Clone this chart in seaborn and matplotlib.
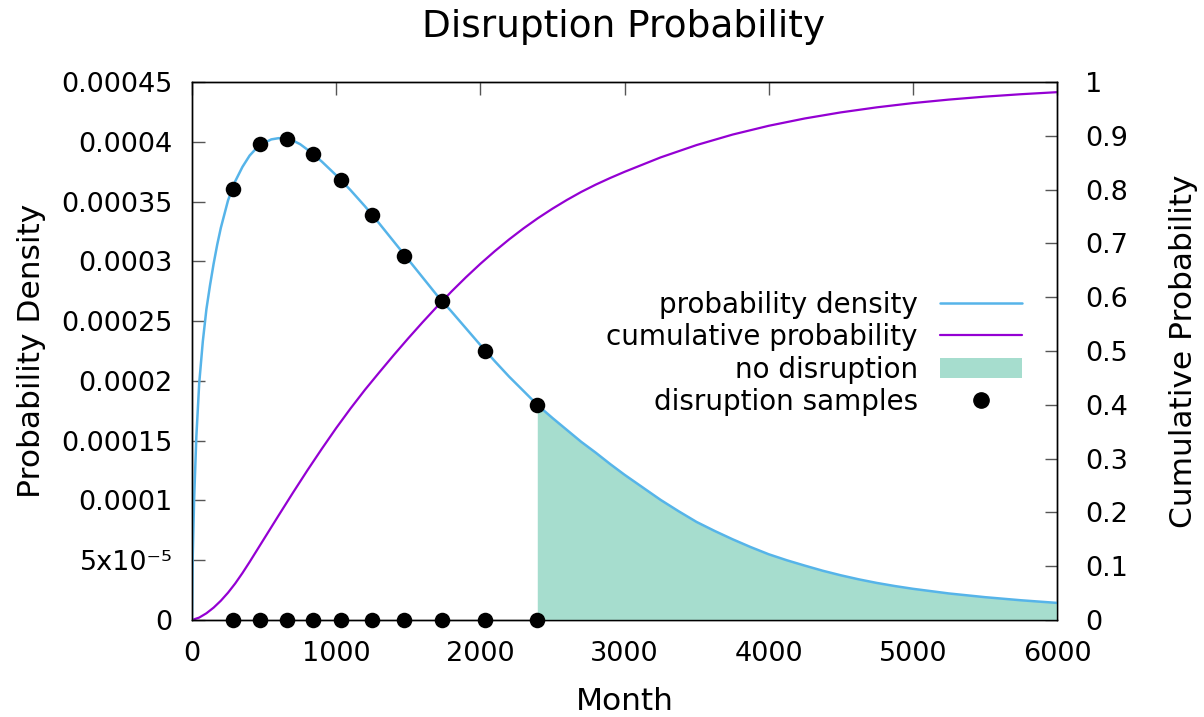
import matplotlib
matplotlib.use('Agg')
import matplotlib.pyplot as plt
from matplotlib.lines import Line2D
from matplotlib.patches import Patch
import seaborn as sns

# probability density curve
pdf_month = [0, 5, 15, 30, 50, 75, 100, 125, 150, 175, 200, 250, 300, 350, 400, 450, 500,
             550, 600, 650, 700, 750, 800, 900, 1000, 1100, 1200, 1300, 1400, 1500, 1600,
             1700, 1800, 1900, 2000, 2100, 2200, 2300, 2395, 2500, 2600, 2700, 2800, 2900,
             3000, 3125, 3250, 3375, 3500, 3625, 3750, 3875, 4000, 4125, 4250, 4375, 4500,
             4625, 4750, 4875, 5000, 5250, 5500, 5750, 6000]
pdf_value = [0, 0.53e-4, 1.02e-4, 1.53e-4, 1.98e-4, 2.33e-4, 2.60e-4, 2.80e-4, 2.98e-4,
             3.14e-4, 3.28e-4, 3.51e-4, 3.67e-4, 3.79e-4, 3.885e-4, 3.95e-4, 3.99e-4, 4.02e-4,
             4.03e-4, 4.03e-4, 4.01e-4, 3.98e-4, 3.935e-4, 3.835e-4, 3.72e-4, 3.595e-4,
             3.46e-4, 3.315e-4, 3.165e-4, 3.015e-4, 2.865e-4, 2.715e-4, 2.58e-4, 2.44e-4,
             2.30e-4, 2.165e-4, 2.035e-4, 1.915e-4, 1.80e-4, 1.69e-4, 1.59e-4, 1.49e-4,
             1.40e-4, 1.305e-4, 1.215e-4, 1.11e-4, 1.005e-4, 0.91e-4, 0.82e-4, 0.745e-4,
             0.675e-4, 0.61e-4, 0.55e-4, 0.50e-4, 0.455e-4, 0.412e-4, 0.374e-4, 0.340e-4,
             0.310e-4, 0.284e-4, 0.261e-4, 0.222e-4, 0.191e-4, 0.165e-4, 0.143e-4]

# cumulative probability curve
cdf_month = [0, 50, 100, 150, 200, 250, 300, 350, 400, 450, 500, 600, 700, 800, 900, 1000,
             1100, 1200, 1300, 1400, 1500, 1600, 1700, 1800, 1900, 2000, 2100, 2200, 2300,
             2400, 2500, 2600, 2700, 2800, 2900, 3000, 3250, 3500, 3750, 4000, 4250, 4500,
             4750, 5000, 5250, 5500, 5750, 6000]
cdf_value = [0, 0.0045, 0.0125, 0.023, 0.0358, 0.0508, 0.068, 0.0873, 0.108, 0.1295, 0.151,
             0.194, 0.2365, 0.278, 0.318, 0.3567, 0.3933, 0.428, 0.4606, 0.4926, 0.5236,
             0.5536, 0.5826, 0.6106, 0.637, 0.662, 0.6855, 0.7075, 0.728, 0.747, 0.7645,
             0.7807, 0.7957, 0.8092, 0.8215, 0.833, 0.8598, 0.8828, 0.9023, 0.9186, 0.9322,
             0.9435, 0.9529, 0.9608, 0.9673, 0.9728, 0.9773, 0.9811]

# disruption samples
sample_month = [282, 472, 657, 837, 1034, 1246, 1473, 1734, 2033, 2395]
sample_density = [3.603e-4, 3.979e-4, 4.021e-4, 3.898e-4, 3.680e-4, 3.388e-4, 3.048e-4,
                  2.668e-4, 2.253e-4, 1.798e-4]

month_ticks = [0, 1000, 2000, 3000, 4000, 5000, 6000]
density_ticks = [0, 5e-5, 1e-4, 1.5e-4, 2e-4, 2.5e-4, 3e-4, 3.5e-4, 4e-4, 4.5e-4]
density_labels = ['0', '5x10\u207b\u2075', '0.0001', '0.00015', '0.0002', '0.00025', '0.0003',
                  '0.00035', '0.0004', '0.00045']
cdf_ticks = [0, 0.1, 0.2, 0.3, 0.4, 0.5, 0.6, 0.7, 0.8, 0.9, 1]
cdf_labels = ['0', '0.1', '0.2', '0.3', '0.4', '0.5', '0.6', '0.7', '0.8', '0.9', '1']

legend_labels = ['probability density', 'cumulative probability', 'no disruption',
                 'disruption samples']

blue = '#56b4e9'
purple = '#9400d3'
green = '#a6ddce'

sns.set_theme(style='white')
plt.rcParams['font.family'] = ['DejaVu Sans']
plt.rcParams['text.color'] = 'black'

fig = plt.figure(figsize=(12.04, 7.17), dpi=100)
ax = fig.add_axes([192 / 1204, 1 - 620 / 717, 865 / 1204, 538 / 717])
ax2 = ax.twinx()
ax.set_zorder(ax2.get_zorder() + 1)
ax.patch.set_visible(False)

sns.lineplot(x=cdf_month, y=cdf_value, ax=ax2, color=purple, linewidth=1.6, legend=False)

# shaded region: after the last disruption sample
cutoff = sample_month[-1]
fill_x = [m for m in pdf_month if m >= cutoff]
fill_y = [v for m, v in zip(pdf_month, pdf_value) if m >= cutoff]
ax.fill_between(fill_x, 0, fill_y, color=green, linewidth=0)

sns.lineplot(x=pdf_month, y=pdf_value, ax=ax, color=blue, linewidth=1.8, legend=False)
sns.scatterplot(x=sample_month, y=sample_density, ax=ax, color='black', s=125,
                linewidth=0, zorder=5, clip_on=False, legend=False)
sns.scatterplot(x=sample_month, y=[0] * len(sample_month), ax=ax, color='black', s=125,
                linewidth=0, zorder=5, clip_on=False, legend=False)

ax.set_xlim(0, 6000)
ax.set_ylim(0, 0.00045)
ax2.set_ylim(0, 1)

ax.set_xticks(month_ticks)
ax.set_xticklabels([str(m) for m in month_ticks])
ax.set_yticks(density_ticks)
ax.set_yticklabels(density_labels)
ax2.set_yticks(cdf_ticks)
ax2.set_yticklabels(cdf_labels)

ax.tick_params(axis='x', direction='in', length=9, width=1, top=True, labeltop=False,
               pad=15, labelsize=19.5, color='#555555', labelcolor='black')
ax.tick_params(axis='y', direction='in', length=9, width=1, right=False, pad=14,
               labelsize=19.5, color='#555555', labelcolor='black')
ax2.tick_params(axis='y', direction='in', length=9, width=1, pad=20, labelsize=19.5,
                color='#555555', labelcolor='black')

for a in (ax, ax2):
    for sp in a.spines.values():
        sp.set_color('black')
        sp.set_linewidth(1.0)

ax.set_xlabel('Month', fontsize=22.5, color='black')
ax.xaxis.set_label_coords(0.5, -0.1245)
ax.set_ylabel('Probability Density', fontsize=22.5, color='black')
ax.yaxis.set_label_coords(-0.169, 0.5)
ax2.set_ylabel('Cumulative Probability', fontsize=22.5, color='black')
ax2.yaxis.set_label_coords(1.13, 0.5)

fig.text(0.518, 1 - 27 / 717, 'Disruption Probability', ha='center', va='center',
         fontsize=27, color='black')

handles = [Line2D([], [], color=blue, linewidth=1.8),
           Line2D([], [], color=purple, linewidth=1.6),
           Patch(facecolor=green, edgecolor='none'),
           Line2D([], [], marker='o', color='black', linestyle='none', markersize=11)]
ax.legend(handles, legend_labels, loc='upper right', bbox_to_anchor=(0.9595, 0.612),
          frameon=False, markerfirst=False, fontsize=20, handlelength=2.95,
          handletextpad=0.8, labelspacing=0.16, borderpad=0, borderaxespad=0)

fig.savefig('out.png', dpi=100)
